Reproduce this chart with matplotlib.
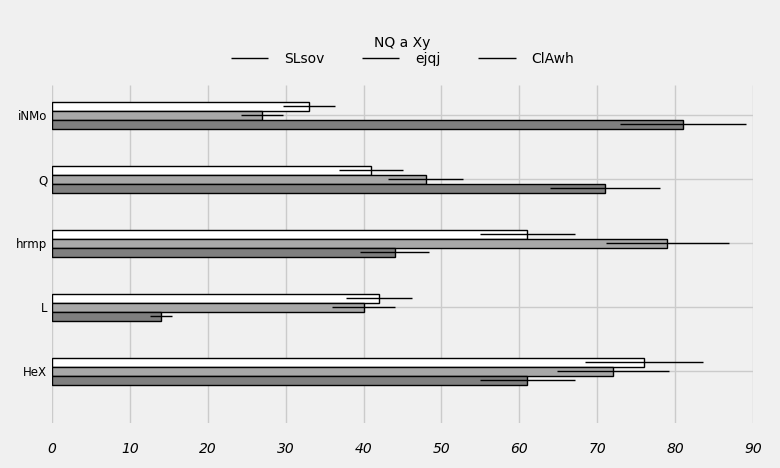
import matplotlib
matplotlib.use('Agg')
import matplotlib.pyplot as plt
from matplotlib.lines import Line2D
import numpy as np

plt.style.use('fivethirtyeight')

categories = ['iNMo', 'Q', 'hrmp', 'L', 'HeX']
series_names = ['SLsov', 'ejqj', 'ClAwh']
slsov = [33, 41, 61, 42, 76]
ejqj = [27, 48, 79, 40, 72]
clawh = [81, 71, 44, 14, 61]
slsov_err = [3.3, 4.1, 6.1, 4.2, 7.6]
ejqj_err = [2.7, 4.8, 7.9, 4.0, 7.2]
clawh_err = [8.1, 7.1, 4.4, 1.4, 6.1]
legend_title = 'NQ a Xy'

values = [slsov, ejqj, clawh]
errors = [slsov_err, ejqj_err, clawh_err]
colors = ['#ffffff', '#a8a8a8', '#7f7f7f']

fig = plt.figure(figsize=(7.8, 4.68), dpi=100)
fig.patch.set_facecolor('#f0f0f0')
ax = fig.add_axes([52 / 780, 1 - 423 / 468, (753 - 52) / 780, (423 - 85) / 468])
ax.set_facecolor('#f0f0f0')

y = np.arange(len(categories))
h = 0.14
for i, (vals, errs) in enumerate(zip(values, errors)):
    ax.barh(y + (i - 1) * h, vals, height=h, color=colors[i],
            edgecolor='black', linewidth=1.0, xerr=errs,
            error_kw=dict(ecolor='black', elinewidth=1.0, capsize=0),
            zorder=3)

ax.set_yticks(y)
ax.set_yticklabels(categories, fontsize=8.5)
ax.set_ylim(4.81, -0.47)
ax.set_xlim(0, 90)
ax.set_xticks(np.arange(0, 100, 10))
for lab in ax.get_xticklabels():
    lab.set_fontsize(10)
    lab.set_style('italic')
ax.grid(True, color='#cbcbcb', linewidth=1.0, zorder=0)
ax.tick_params(axis='both', length=0)
ax.tick_params(axis='x', pad=14)
ax.tick_params(axis='y', pad=3.5)
for s in ax.spines.values():
    s.set_visible(False)

handles = [Line2D([0], [0], color='black', linewidth=1.0) for _ in series_names]
leg = ax.legend(handles, series_names, title=legend_title, loc='lower center',
                bbox_to_anchor=(0.5, 1.0), ncol=3, frameon=False,
                fontsize=10, title_fontsize=10, handlelength=2.7,
                handletextpad=1.15, columnspacing=2.7, labelspacing=0.1,
                borderaxespad=1.0)

fig.savefig('out.png', dpi=100, facecolor=fig.get_facecolor())
